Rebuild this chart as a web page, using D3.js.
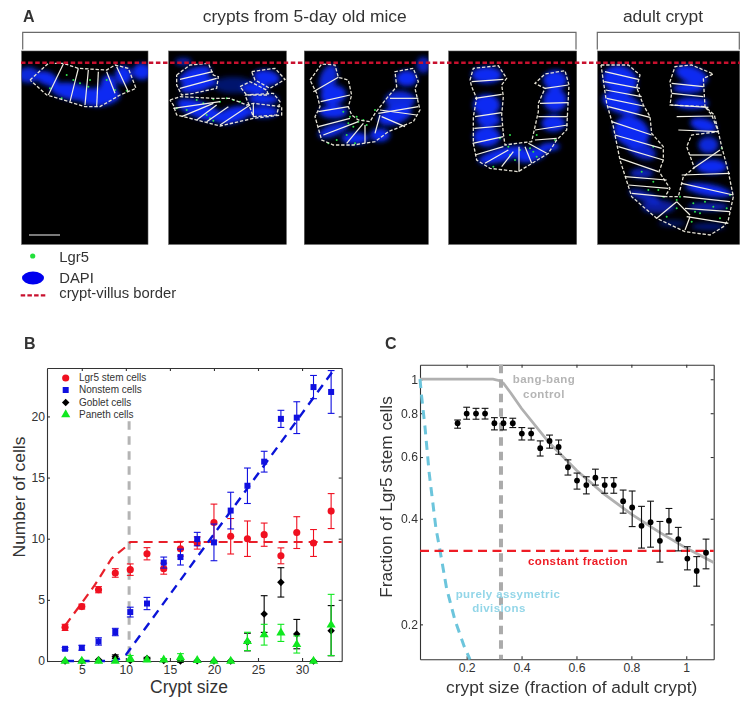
<!DOCTYPE html>
<html><head><meta charset="utf-8">
<script src="https://cdn.jsdelivr.net/npm/d3@7/dist/d3.min.js"></script>
<style>
html,body{margin:0;padding:0;background:#fff}
svg{display:block}
text{font-family:"Liberation Sans",Arial,sans-serif;fill:#333}
.axis text{font-family:"Liberation Sans",Arial,sans-serif;fill:#333;font-size:12.2px}
</style></head><body>
<svg id="fig" width="750" height="707" xmlns="http://www.w3.org/2000/svg"></svg>
<script>
// ---------- Panel B data ----------
const cryptSizes   = [3.1,5,6.9,8.8,10.5,12.4,14.3,16.2,18.1,20,21.9,23.8,25.7,27.6,29.4,31.3,33.3];
const lgr5Cells    = [2.75,4.45,5.83,7.2,7.47,8.77,7.55,9.18,9.65,11.33,10.2,10,10.33,8.6,10.5,9.65,12.26];
const lgr5Err      = [0.25,0.2,0.25,0.35,0.47,0.5,0.45,0.6,0.5,1.5,1.45,1.45,0.95,0.65,1.3,1.1,1.43];
const nonstemCells = [1,1.08,1.6,2.37,4,4.7,8.05,8.5,9.97,9.7,12.3,14.33,16.3,19.8,19.9,22.4,22];
const nonstemErr   = [0.1,0.2,0.3,0.3,0.4,0.5,0.45,0.65,0.55,1.5,1.5,1.45,0.85,0.7,1.3,0.95,1.75];
const gobletCells  = [0,0,0.1,0.35,0.05,0.2,0.05,0,0.03,0,0,1.55,3.84,6.43,2.2,0,2.48];
const gobletErr    = [0,0,0,0.15,0,0.1,0,0.1,0,0,0,0.72,1.5,1.2,1.2,0,2.05];
const panethCells  = [0,0,0,0,0.2,0.1,0.1,0.3,0.05,0,0,1.6,2.15,2.3,1.35,0,2.95];
const panethErr    = [0,0,0,0,0.25,0,0.1,0.3,0,0,0,0.75,0.85,0.7,0.7,0,2.5];
const modelRedX    = [3.1,5,6.5,8.4,10.1,10.5,34.5];
const modelRedY    = [2.9,4.74,6.24,8.4,9.4,9.73,9.73];
const modelBlueX   = [3.1,8.8,10,33.4];
const modelBlueY   = [0,0,0.5,23.6];
const guideB       = 10.37;
const guideBTop    = 19.6;
const legendNames  = ["Lgr5 stem cells","Nonstem cells","Goblet cells","Paneth cells"];
const xTicksB      = [5,10,15,20,25,30];
const yTicksB      = [0,5,10,15,20];

// ---------- Panel C data ----------
const fractionX = [0.167,0.2,0.234,0.267,0.301,0.334,0.368,0.401,0.435,0.468,0.502,0.535,0.569,0.602,0.636,0.669,0.703,0.736,0.77,0.803,0.837,0.87,0.904,0.937,0.971,1.004,1.038,1.072];
const fractionY = [0.749,0.798,0.798,0.798,0.749,0.749,0.749,0.7,0.7,0.636,0.667,0.641,0.561,0.514,0.499,0.524,0.499,0.499,0.449,0.431,0.382,0.391,0.346,0.395,0.35,0.308,0.284,0.32];
const fractionHi = [0.765,0.832,0.826,0.826,0.777,0.777,0.774,0.728,0.725,0.667,0.693,0.671,0.589,0.54,0.527,0.554,0.524,0.524,0.483,0.48,0.434,0.449,0.393,0.428,0.378,0.333,0.312,0.35];
const fractionLo = [0.725,0.769,0.769,0.77,0.717,0.717,0.728,0.671,0.671,0.604,0.636,0.611,0.533,0.486,0.471,0.499,0.473,0.473,0.415,0.38,0.33,0.332,0.301,0.362,0.324,0.286,0.257,0.288];
const bangX = [0.03,0.296,0.32,0.334,0.36,0.4,0.5,0.6,0.7,0.8,0.9,1,1.1];
const bangY = [1,1,0.99,0.974,0.915,0.825,0.66,0.55,0.471,0.4125,0.367,0.33,0.3];
const asymX = [0.03,0.036,0.048,0.0635,0.088,0.1026,0.127,0.157,0.191,0.212];
const asymY = [1,0.892,0.733,0.54,0.376,0.326,0.253,0.206,0.173,0.159];
const constantFraction = 0.324;
const guideC = 0.325;
const xTicksC = [0.2,0.4,0.6,0.8,1];
const yTicksC = [0.2,0.4,0.6,0.8,1];

// ---------- Panel A data (micrograph tracing units) ----------
const frames = [[65,153,444,733],[506,153,859,733],[913,153,1285,733],[1346,153,1730,733],[1793,153,2219,733]];
const blobs = [
 [85,225,32,24,0,.9],[140,235,35,20,20,1],[220,275,70,25,10,1],[300,290,60,28,-5,1],[325,260,25,35,0,1],[370,225,25,28,0,1],[425,215,28,25,0,1],
 [585,225,50,22,-20,1],[595,255,55,20,-15,1],[700,255,60,25,0,.45],[800,232,40,22,10,1],[765,265,40,18,0,1],[790,298,45,15,0,1],[600,330,72,25,20,1],[700,345,55,24,-15,1],[790,335,45,18,0,1],[550,185,25,12,0,.7],
 [985,235,25,42,20,.9],[1000,285,38,30,-10,1],[1000,335,42,20,0,1],[1000,390,48,18,-20,.9],[1065,415,40,18,0,1],[1220,235,32,24,0,1],[1200,300,45,28,0,.9],[1185,345,52,27,-20,1],[1140,405,30,20,0,1],[1270,195,20,25,0,.8],
 [1460,225,45,25,0,1],[1460,315,40,32,0,1],[1465,360,35,20,0,1],[1460,410,40,30,0,1],[1505,465,72,20,-15,1],[1595,465,45,20,-15,1],[1665,240,35,30,0,1],[1665,300,35,35,0,1],[1660,370,35,25,0,1],[1650,440,30,12,0,1],
 [1860,240,52,42,20,1],[1865,310,60,32,20,1],[1895,395,55,45,30,1],[1925,450,45,25,25,.85],[1925,520,35,15,0,.75],[1935,590,50,15,20,.75],[1975,620,50,20,0,.65],[2075,225,50,25,20,1],[2065,265,45,15,0,1],[2075,310,50,18,0,1],[2110,375,40,20,15,1],[2125,435,30,25,0,.9],[2135,500,45,22,0,1],[2125,570,70,18,10,1],[2125,620,60,12,0,.75],[2125,680,50,10,0,.5],[2015,670,40,10,0,.4]
];
const outlines = [
 [[90,240],[145,190],[190,190],[235,205],[320,210],[345,195],[385,205],[408,265],[360,285],[300,320],[255,320],[190,300],[140,285],[90,240]],
 [[530,225],[570,195],[625,190],[640,225],[655,230],[650,265],[580,280],[545,285],[530,255],[530,225]],
 [[510,300],[540,290],[640,295],[690,295],[740,315],[760,310],[845,320],[845,345],[760,355],[660,378],[610,365],[530,345],[520,315],[510,300]],
 [[755,215],[825,205],[855,238],[810,265],[765,240],[755,215]],
 [[720,260],[750,245],[800,270],[805,285],[740,285],[720,260]],
 [[735,285],[820,280],[840,305],[830,345],[760,350],[745,310],[735,285]],
 [[930,240],[965,192],[1005,195],[1015,232],[1045,240],[1055,285],[1045,320],[1055,345],[1075,360],[1110,365],[1125,340],[1160,295],[1190,260],[1185,215],[1240,205],[1255,245],[1245,265],[1260,330],[1240,365],[1165,395],[1125,425],[1060,435],[1000,435],[965,420],[955,385],[945,350],[960,320],[950,280],[930,240]],
 [[1410,240],[1420,205],[1495,197],[1520,235],[1505,255],[1510,290],[1505,345],[1510,400],[1515,435],[1550,430],[1595,425],[1615,335],[1615,310],[1635,265],[1605,250],[1635,222],[1695,212],[1707,255],[1700,390],[1670,420],[1645,460],[1555,515],[1470,505],[1430,480],[1420,430],[1420,350],[1430,295],[1415,260],[1410,240]],
 [[1803,195],[1885,195],[1920,225],[1910,262],[1930,315],[1950,350],[1955,400],[1990,440],[1990,480],[1977,515],[2010,565],[1995,590],[2035,590],[2050,530],[2083,503],[2060,440],[2075,405],[2155,395],[2135,345],[2115,320],[2010,315],[2015,280],[2010,245],[2025,200],[2075,195],[2140,222],[2110,235],[2115,320],[2143,345],[2155,395],[2165,440],[2185,515],[2200,590],[2185,660],[2170,680],[2130,705],[2055,695],[1970,655],[1895,590],[1860,480],[1840,380],[1820,310],[1803,195]]
];
const dividers = [
 [190,192,145,285],[235,205,210,305],[265,210,255,315],[295,215,290,320],[320,215,345,280],[350,200,385,275],
 [540,238,638,215],[540,265,650,235],[520,325,660,305],[545,350,640,310],[590,360,650,315],[620,365,685,320],[660,375,750,315],[760,310,760,350],
 [940,275,1015,232],[962,305,1050,285],[955,335,1045,320],[955,380,1050,355],[970,405,1075,365],[1040,430,1090,370],[1095,430,1095,375],[1125,400,1140,345],[1135,340,1255,320],[1140,330,1250,345],[1145,350,1215,380],[1170,295,1255,295],
 [1415,245,1510,238],[1425,295,1505,283],[1425,350,1505,338],[1423,385,1505,378],[1418,430,1510,410],[1425,465,1510,440],[1455,490,1525,450],[1505,500,1540,455],[1557,515,1557,440],[1595,490,1575,440],[1640,460,1585,430],[1605,420,1670,415],[1605,390,1703,375],[1615,350,1703,350],[1620,310,1705,308],[1635,265,1705,255],
 [1815,215,1915,238],[1813,245,1920,265],[1817,270,1925,290],[1820,295,1930,318],[1825,320,1950,352],[1835,365,1955,405],[1845,405,1985,445],[1855,440,1990,480],[1860,475,1975,515],[1875,530,2000,540],[1885,555,2005,565],[1895,580,1995,590],[1970,655,2030,605],
 [2015,250,2110,260],[2015,280,2110,290],[2013,315,2125,322],[2030,350,2140,348],[2035,390,2155,395],[2070,465,2165,465],[2080,505,2160,450],[2045,525,2190,520],[2045,550,2200,585],[2050,590,2190,605],[2055,625,2190,635],[2060,650,2185,670],[2070,650,2055,690],[2030,605,2070,645]
];
const greenSpots = [
 [150,265],[200,225],[240,250],[270,240],[185,295],[345,270],[380,272],[265,260],[220,240],[320,240],
 [530,325],[640,298],[610,310],[660,305],[700,300],[620,345],[640,362],[560,330],[590,300],[680,295],[720,305],[630,355],
 [1030,335],[1050,350],[1075,365],[1090,360],[1060,380],[1040,405],[985,430],[1070,350],[1100,375],[1010,420],[1125,330],[1065,430],[1045,370],
 [1525,440],[1530,465],[1560,450],[1600,455],[1610,470],[1480,500],[1545,480],[1590,445],[1610,405],[1665,420],[1500,415],[1530,405],
 [1960,545],[1975,570],[1990,590],[2030,600],[2040,590],[2030,625],[2000,650],[2080,610],[2115,605],[2140,620],[2160,655],[2180,625],[2190,585],[2085,635],[2075,665],[1925,515],[2165,445],[1945,570],[2100,640],[1960,440]
];
const scaleBar = [87,705,180,705];

// ---------- Drawing ----------
const svg = d3.select("#fig");
const defs = svg.append("defs");
defs.append("filter").attr("id","soft").attr("x","-50%").attr("y","-50%").attr("width","200%").attr("height","200%")
  .append("feGaussianBlur").attr("stdDeviation",2.4);
defs.append("filter").attr("id","fine").append("feGaussianBlur").attr("stdDeviation",0.3);
defs.append("clipPath").attr("id","framesClip").selectAll("rect").data(frames).join("rect");

// tracing scale: tracing units are one third of a page pixel
const tx = d3.scaleLinear().domain([0,2250]).range([0,750]);
const ty = d3.scaleLinear().domain([0,2121]).range([0,707]);

const A = svg.append("g");
defs.select("#framesClip").selectAll("rect")
  .attr("x",d=>tx(d[0])).attr("y",d=>ty(d[1])).attr("width",d=>tx(d[2])-tx(d[0])).attr("height",d=>ty(d[3])-ty(d[1]));
A.selectAll("rect.frame").data(frames).join("rect").attr("class","frame")
  .attr("x",d=>tx(d[0])).attr("y",d=>ty(d[1])).attr("width",d=>tx(d[2])-tx(d[0])).attr("height",d=>ty(d[3])-ty(d[1]))
  .attr("fill","#000").attr("stroke","#555").attr("stroke-width",0.6);
const micro = A.append("g").attr("clip-path","url(#framesClip)");
micro.append("g").attr("filter","url(#soft)").selectAll("ellipse").data(blobs).join("ellipse")
  .attr("cx",0).attr("cy",0)
  .attr("rx",d=>tx(d[2])).attr("ry",d=>ty(d[3]))
  .attr("transform",d=>`translate(${tx(d[0])},${ty(d[1])}) rotate(${d[4]})`)
  .attr("fill","#0a2cf2").attr("opacity",d=>d[5]);
const lineGen = d3.line().x(d=>tx(d[0])).y(d=>ty(d[1]));
const detail = micro.append("g").attr("filter","url(#fine)");
detail.selectAll("circle").data(greenSpots).join("circle")
  .attr("cx",d=>tx(d[0])).attr("cy",d=>ty(d[1])).attr("r",1).attr("fill","#2ee04a");
detail.selectAll("path").data(outlines).join("path").attr("d",lineGen)
  .attr("fill","none").attr("stroke","#e4e1d4").attr("stroke-width",1.3).attr("stroke-dasharray","3.4 1.8");
detail.selectAll("line").data(dividers).join("line")
  .attr("x1",d=>tx(d[0])).attr("y1",d=>ty(d[1])).attr("x2",d=>tx(d[2])).attr("y2",d=>ty(d[3]))
  .attr("stroke","#f2f0e6").attr("stroke-width",1.2);
A.append("line").attr("x1",tx(scaleBar[0])).attr("y1",ty(scaleBar[1])).attr("x2",tx(scaleBar[2])).attr("y2",ty(scaleBar[3]))
  .attr("stroke","#ccc").attr("stroke-width",1.2);
A.append("line").attr("x1",21).attr("x2",740).attr("y1",62.7).attr("y2",62.7)
  .attr("stroke","#c8102e").attr("stroke-width",2.4).attr("stroke-dasharray","4.5 2.6");
// brackets
[[22.7,576],[597.3,739.3]].forEach(([a,b])=>{
  A.append("path").attr("d",`M${a},49.5V32.3H${b}V49.5`).attr("fill","none").attr("stroke","#6a6a6a").attr("stroke-width",1.2);
});
A.append("text").attr("x",304.7).attr("y",21.5).attr("text-anchor","middle").attr("font-size",17.4).text("crypts from 5-day old mice");
A.append("text").attr("x",663).attr("y",21.5).attr("text-anchor","middle").attr("font-size",17.4).text("adult crypt");
// legend A
A.append("circle").attr("cx",32.7).attr("cy",256).attr("r",2.6).attr("fill","#22e03a");
A.append("ellipse").attr("cx",33).attr("cy",278).attr("rx",11).attr("ry",6.5).attr("fill","#0000ee");
A.append("line").attr("x1",20.7).attr("x2",47.3).attr("y1",295.3).attr("y2",295.3).attr("stroke","#c8102e").attr("stroke-width",2.2).attr("stroke-dasharray","4.5 2.2");
[["Lgr5",262],["DAPI",282.5],["crypt-villus border",298]].forEach(([t,y])=>{
  A.append("text").attr("x",59.3).attr("y",y).attr("font-size",14.8).text(t);
});
// panel letters
[["A",23,22],["B",24,348.5],["C",385,348.5]].forEach(([t,x,y])=>{
  svg.append("text").attr("x",x).attr("y",y).attr("font-size",16).attr("font-weight","bold").attr("fill","#222").text(t);
});

function frameAxes(g,x,y,xTicks,yTicks,yFmt,xFmt,pad){
  const [x0,x1]=x.range(), [y0,y1]=y.range();
  g.append("g").attr("class","axis").attr("transform",`translate(0,${y0})`)
    .call(d3.axisBottom(x).tickValues(xTicks).tickFormat(xFmt).tickSizeInner(-3).tickSizeOuter(0).tickPadding(4));
  g.append("g").attr("class","axis").attr("transform",`translate(0,${y1})`)
    .call(d3.axisTop(x).tickValues(xTicks).tickFormat("").tickSizeInner(-3).tickSizeOuter(0));
  g.append("g").attr("class","axis").attr("transform",`translate(${x0},0)`)
    .call(d3.axisLeft(y).tickValues(yTicks).tickFormat(yFmt).tickSizeInner(-3).tickSizeOuter(0).tickPadding(pad));
  g.append("g").attr("class","axis").attr("transform",`translate(${x1},0)`)
    .call(d3.axisRight(y).tickValues(yTicks).tickFormat("").tickSizeInner(-3).tickSizeOuter(0));
  g.selectAll(".axis path,.axis line").attr("stroke","#333").attr("stroke-width",1.1);
}
function errorBars(g,xs,lo,hi,x,y,color,cap){
  const n=g.append("g").attr("stroke",color).attr("stroke-width",1.1).attr("fill","none");
  const idx=d3.range(xs.length).filter(i=>hi[i]>lo[i]);
  n.selectAll("line.v").data(idx).join("line").attr("class","v")
    .attr("x1",i=>x(xs[i])).attr("x2",i=>x(xs[i])).attr("y1",i=>y(lo[i])).attr("y2",i=>y(hi[i]));
  n.selectAll("line.t").data(idx).join("line").attr("class","t")
    .attr("x1",i=>x(xs[i])-cap).attr("x2",i=>x(xs[i])+cap).attr("y1",i=>y(hi[i])).attr("y2",i=>y(hi[i]));
  n.selectAll("line.b").data(idx).join("line").attr("class","b")
    .attr("x1",i=>x(xs[i])-cap).attr("x2",i=>x(xs[i])+cap).attr("y1",i=>y(lo[i])).attr("y2",i=>y(lo[i]));
}

// ---------- Panel B ----------
const bx = d3.scaleLinear().domain([1.05,34.5]).range([47,341.7]);
const by = d3.scaleLinear().domain([0,23.96]).range([661,368]);
const B = svg.append("g");
frameAxes(B,bx,by,xTicksB,yTicksB,d3.format("d"),d3.format("d"),2);
const l2 = d3.line();
B.append("line").attr("x1",bx(guideB)).attr("x2",bx(guideB)).attr("y1",by(guideBTop)).attr("y2",by(0))
  .attr("stroke","#b4b4b4").attr("stroke-width",3).attr("stroke-dasharray","8.5 6.5");
B.append("path").attr("d",l2(modelRedX.map((v,i)=>[bx(v),by(modelRedY[i])])))
  .attr("fill","none").attr("stroke","#e8202a").attr("stroke-width",2.2).attr("stroke-dasharray","9 6");
B.append("path").attr("d",l2(modelBlueX.map((v,i)=>[bx(v),by(modelBlueY[i])])))
  .attr("fill","none").attr("stroke","#0a14d8").attr("stroke-width",2.4).attr("stroke-dasharray","9 6.5");
const seriesB = [
 {v:lgr5Cells,e:lgr5Err,c:"#f01020",sym:d3.symbolCircle,size:40},
 {v:nonstemCells,e:nonstemErr,c:"#1010e0",sym:d3.symbolSquare,size:36},
 {v:gobletCells,e:gobletErr,c:"#000",sym:d3.symbolDiamond2,size:36},
 {v:panethCells,e:panethErr,c:"#10e820",sym:d3.symbolTriangle,size:36}
];
seriesB.forEach(s=>{
  errorBars(B,cryptSizes,s.v.map((d,i)=>d-s.e[i]),s.v.map((d,i)=>d+s.e[i]),bx,by,s.c,3.4);
  B.append("g").selectAll("path").data(s.v).join("path")
    .attr("d",d3.symbol().type(s.sym).size(s.size))
    .attr("transform",(d,i)=>`translate(${bx(cryptSizes[i])},${by(d)})`).attr("fill",s.c);
});
const legY=[378,390,402.5,414.5];
seriesB.forEach((s,i)=>{
  B.append("path").attr("d",d3.symbol().type(s.sym).size(s.size)).attr("transform",`translate(65.7,${legY[i]})`).attr("fill",s.c);
  B.append("text").attr("x",79).attr("y",legY[i]+3.4).attr("font-size",10).text(legendNames[i]);
});
B.append("text").attr("x",189).attr("y",693).attr("text-anchor","middle").attr("font-size",17.5).text("Crypt size");
B.append("text").attr("transform","translate(25,497) rotate(-90)").attr("text-anchor","middle").attr("font-size",17.4).text("Number of cells");

// ---------- Panel C ----------
const cx = d3.scaleLinear().domain([0.03,1.1]).range([420,713.7]);
const cy = d3.scaleLog().domain([0.159,1.1]).range([659.3,364.7]);
const C = svg.append("g");
frameAxes(C,cx,cy,xTicksC,yTicksC,d3.format("~g"),d3.format("~g"),2);
C.append("path").attr("d",l2(bangX.map((v,i)=>[cx(v),cy(bangY[i])])))
  .attr("fill","none").attr("stroke","#b0b0b0").attr("stroke-width",2.8);
C.append("path").attr("d",l2(asymX.map((v,i)=>[cx(v),cy(asymY[i])])))
  .attr("fill","none").attr("stroke","#6cc5dc").attr("stroke-width",3).attr("stroke-dasharray","9 6.5");
C.append("line").attr("x1",cx(guideC)).attr("x2",cx(guideC)).attr("y1",cy(1.1)).attr("y2",cy(0.159))
  .attr("stroke","#ababab").attr("stroke-width",4).attr("stroke-dasharray","8.5 6");
C.append("line").attr("x1",cx(0.03)).attr("x2",cx(1.1)).attr("y1",cy(constantFraction)).attr("y2",cy(constantFraction))
  .attr("stroke","#ee1c25").attr("stroke-width",2.2).attr("stroke-dasharray","9 5.5");
errorBars(C,fractionX,fractionLo,fractionHi,cx,cy,"#111",3.4);
C.append("g").selectAll("circle").data(fractionY).join("circle")
  .attr("cx",(d,i)=>cx(fractionX[i])).attr("cy",d=>cy(d)).attr("r",2.9).attr("fill","#000");
[["bang-bang",544,383,"#b5b5b5"],["control",544,398,"#b5b5b5"],["constant fraction",578,565,"#ee1c25"],["purely assymetric",508,598,"#93d6e8"],["divisions",499,612,"#93d6e8"]]
 .forEach(([t,x,y,c])=>{
  C.append("text").attr("x",x).attr("y",y).attr("text-anchor","middle").attr("font-size",11.5).attr("font-weight","bold").attr("letter-spacing",0.4).style("fill",c).text(t);
});
C.append("text").attr("x",571.7).attr("y",693).attr("text-anchor","middle").attr("font-size",17.4).text("crypt size (fraction of adult crypt)");
C.append("text").attr("transform","translate(392,497) rotate(-90)").attr("text-anchor","middle").attr("font-size",17.2).text("Fraction of Lgr5 stem cells");
</script>
</body></html>
